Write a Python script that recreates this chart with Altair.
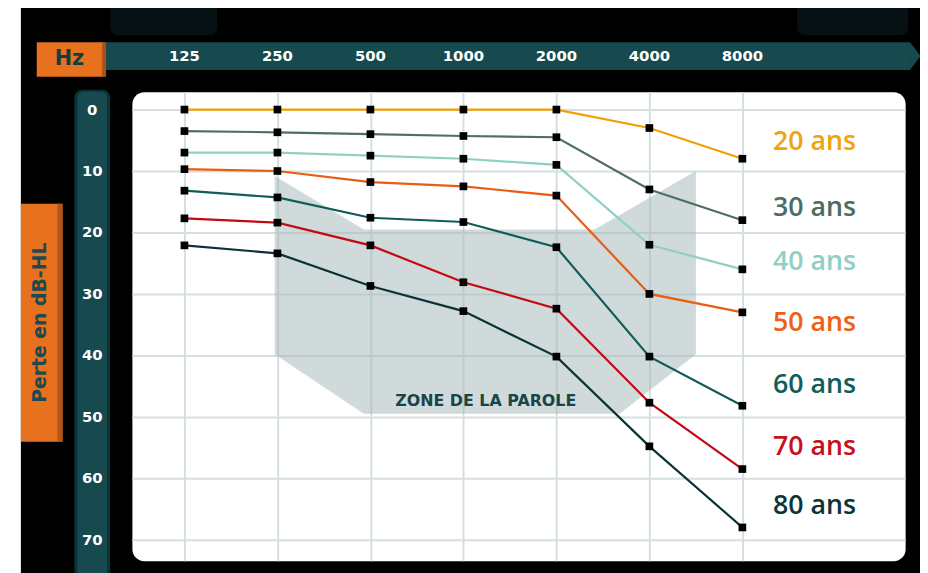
import altair as alt
import pandas as pd

# ---------------- data ----------------
freqs = [125, 250, 500, 1000, 2000, 4000, 8000]
ages = ["20 ans", "30 ans", "40 ans", "50 ans", "60 ans", "70 ans", "80 ans"]
loss_20 = [0, 0, 0, 0, 0, 3, 8]
loss_30 = [3.5, 3.7, 4, 4.3, 4.5, 13, 18]
loss_40 = [7, 7, 7.5, 8, 9, 22, 26]
loss_50 = [9.7, 10, 11.8, 12.5, 14, 30, 33]
loss_60 = [13.2, 14.3, 17.6, 18.3, 22.4, 40.2, 48.2]
loss_70 = [17.7, 18.4, 22.1, 28.1, 32.4, 47.7, 58.5]
loss_80 = [22.1, 23.4, 28.7, 32.8, 40.2, 54.8, 68]
series = [loss_20, loss_30, loss_40, loss_50, loss_60, loss_70, loss_80]

line_colors = ["#f0a000", "#4f6e64", "#8fd0c6", "#ea5c12", "#0f5d59", "#c20a14", "#0b3337"]
label_colors = ["#f2a20c", "#4c6d63", "#8fcfc5", "#ee6115", "#105e5a", "#c8101e", "#0c3539"]
label_db = [5.3, 16, 24.8, 34.7, 44.8, 55, 64.5]
label_hz = 10050

zone_hz = [245, 476, 2658, 3205, 5657]
zone_top = [10.8, 19.5, 19.5, 17.15, 10.0]
zone_bottom = [39.8, 49.5, 49.5, 49.5, 39.8]
zone_label = "ZONE DE LA PAROLE"
zone_label_hz = 1181
zone_label_db = 47.4

x_title = "Hz"
y_title = "Perte en dB-HL"
x_tick_labels = ["125", "250", "500", "1000", "2000", "4000", "8000"]
y_ticks = [0, 10, 20, 30, 40, 50, 60, 70]

# ---------------- tables ----------------
rows = []
for age, vals, col in zip(ages, series, line_colors):
    for f, v in zip(freqs, vals):
        rows.append({"age": age, "hz": f, "db": v, "col": col})
df = pd.DataFrame(rows)
df_lab = pd.DataFrame({"age": ages, "hz": [label_hz] * len(ages), "db": label_db, "col": label_colors})
df_zone = pd.DataFrame({"hz": zone_hz, "top": zone_top, "bottom": zone_bottom})
df_ztxt = pd.DataFrame({"hz": [zone_label_hz], "db": [zone_label_db], "t": [zone_label]})
df_xt = pd.DataFrame({"hz": freqs, "t": x_tick_labels})
df_yt = pd.DataFrame({"db": y_ticks, "t": [str(v) for v in y_ticks]})
one = pd.DataFrame({"k": [0]})

# ---------------- scales / axes ----------------
xscale = alt.Scale(type="log", base=2, domain=[84.5, 26912], nice=False)
yscale = alt.Scale(domain=[-2.9, 73.4], reverse=True, nice=False, zero=False)
xaxis = alt.Axis(orient="top", values=freqs, labels=False, title="")
yaxis = alt.Axis(orient="left", values=y_ticks, labels=False, title="")
X = alt.X("hz:Q", scale=xscale, axis=xaxis)
Y = alt.Y("db:Q", scale=yscale, axis=yaxis)


def box(x, x2, y, y2, color, r=0):
    return alt.Chart(one).mark_rect(color=color, cornerRadius=r).encode(
        x=alt.value(x), x2=alt.value(x2), y=alt.value(y), y2=alt.value(y2))


def label(text, x, y, color, size, angle=0, font="DejaVu Sans", weight="bold"):
    return alt.Chart(one).mark_text(text=text, color=color, fontSize=size, font=font,
                                    fontWeight=weight, angle=angle, align="center",
                                    baseline="middle").encode(x=alt.value(x), y=alt.value(y))


# ---------------- decorations ----------------
deco = [
    box(-130, -112, -95, 500, "white"),
    box(-22, 86, -100, -57, "#061113", 8),
    box(671, 783, -100, -57, "#061113", 8),
    box(-33, 785, -50, -22, "#164a4e"),
    alt.Chart(one).mark_point(shape="M 0 -1 L 0.75 0 L 0 1 Z", size=784, filled=True,
                              color="#164a4e", opacity=1).encode(x=alt.value(785), y=alt.value(-36)),
    box(-96, -29, -50, -15, "#e8711f"),
    box(-30, -26, -50, -15, "#a8521a"),
    label(x_title, -63, -33, "#143e42", 21),
    box(-58, -22, -2, 500, "#0b3236", 8),
    box(-55, -25, 0, 500, "#164a4e", 6),
    box(-112, -70, 113, 353, "#e8711f"),
    box(-75, -70, 113, 353, "#b0561a"),
    label(y_title, -93, 233, "#1c4a4e", 19, angle=270),
]

# tick labels drawn through the scales
xt = alt.Chart(df_xt).mark_text(font="DejaVu Sans", fontWeight="bold", fontSize=15,
                                color="white", baseline="middle").encode(
    x=X, y=alt.value(-36), text="t:N")
yt = alt.Chart(df_yt).mark_text(font="DejaVu Sans", fontWeight="bold", fontSize=15,
                                color="white", baseline="middle").encode(
    y=Y, x=alt.value(-40), text="t:N")

# ---------------- data layers ----------------
zone = alt.Chart(df_zone).mark_area(color="#a1b5b7", opacity=0.5).encode(
    x=X, y=alt.Y("top:Q", scale=yscale, axis=yaxis), y2="bottom:Q")
ztxt = alt.Chart(df_ztxt).mark_text(font="DejaVu Sans", fontWeight="bold", fontSize=16,
                                    color="#1a4548").encode(x=X, y=Y, text="t:N")
lines = alt.Chart(df).mark_line(strokeWidth=2.2).encode(
    x=X, y=Y, color=alt.Color("col:N", scale=None), detail="age:N")
pts = alt.Chart(df).mark_square(size=60, color="black", filled=True, opacity=1).encode(x=X, y=Y)
labs = alt.Chart(df_lab).mark_text(align="left", baseline="middle", font="Open Sans",
                                   fontSize=27, fontWeight=600).encode(
    x=X, y=Y, text="age:N", color=alt.Color("col:N", scale=None))

chart = alt.layer(*deco, xt, yt, zone, ztxt, lines, pts, labs).properties(
    width=780, height=473,
    padding={"left": 125, "top": 82, "right": 15, "bottom": 10},
    autosize=alt.AutoSizeParams(type="none"),
    background="#000000",
).configure_view(fill="white", strokeOpacity=0, cornerRadius=12).configure_axis(
    grid=True, gridColor="#d6dfdf", gridWidth=2, gridOpacity=1, domain=False, ticks=False,
)

chart.save("out.html", embed_options={"renderer": "svg", "actions": False})
